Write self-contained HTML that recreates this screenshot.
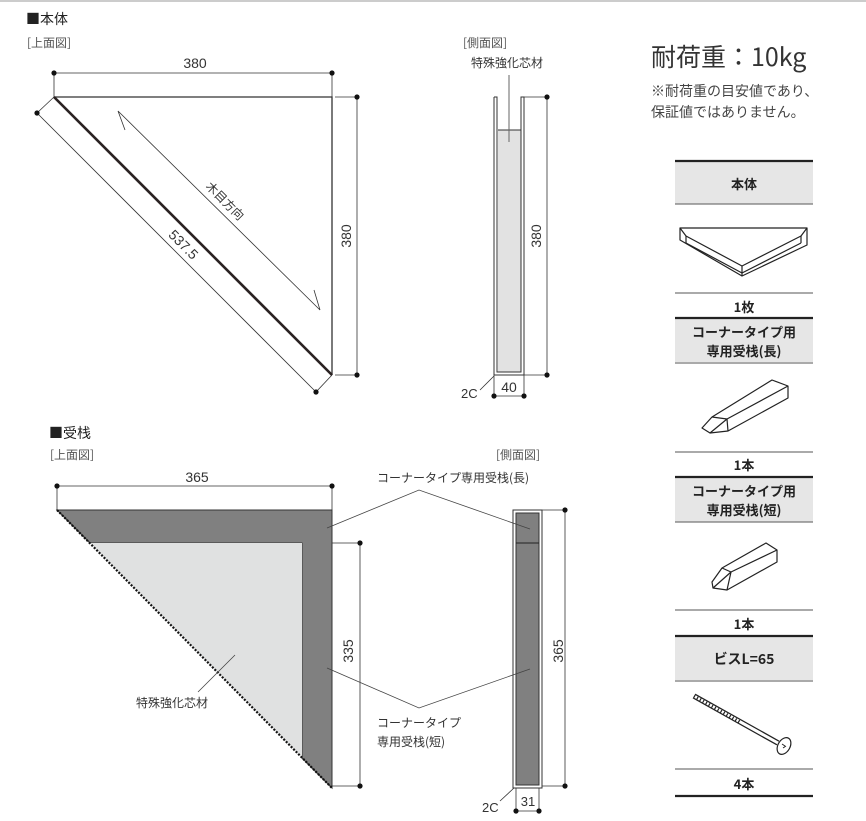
<!DOCTYPE html>
<html><head><meta charset="utf-8"><style>
html,body{margin:0;padding:0;background:#fff;}
svg{display:block;font-family:"Liberation Sans","Noto Sans CJK JP",sans-serif;}
.cjk{font-family:"Noto Sans CJK JP",sans-serif;}
</style></head><body>
<svg width="866" height="821" viewBox="0 0 866 821" xmlns="http://www.w3.org/2000/svg">
<line x1="0" y1="1" x2="866" y2="1" stroke="#ccc" stroke-width="2"/>
<text x="26" y="24" font-size="14" fill="#222" class="cjk">■本体</text>
<text x="27" y="47" font-size="12" fill="#555" class="cjk">[上面図]</text>
<!-- dims top -->
<g stroke="#333" stroke-width="0.8" fill="none">
<line x1="54" y1="73" x2="332" y2="73"/>
<line x1="54" y1="73" x2="54" y2="97"/>
<line x1="332" y1="73" x2="332" y2="97"/>
<line x1="357" y1="97" x2="357" y2="375"/>
<line x1="335" y1="97" x2="357" y2="97"/>
<line x1="335" y1="375" x2="357" y2="375"/>
<line x1="37" y1="113" x2="316" y2="392"/>
<line x1="37" y1="113" x2="54" y2="97"/>
<line x1="316" y1="392" x2="332" y2="375"/>
<polyline points="125,130 118,111 320,310 314,290"/>
</g>
<g fill="#111">
<circle cx="54" cy="73" r="2.6"/><circle cx="332" cy="73" r="2.6"/>
<circle cx="357" cy="97" r="2.6"/><circle cx="357" cy="375" r="2.6"/>
<circle cx="37" cy="113" r="2.6"/><circle cx="316" cy="392" r="2.6"/>
</g>
<polyline points="54,97 332,97 332,375" fill="none" stroke="#333" stroke-width="1.3"/>
<line x1="54" y1="97" x2="332" y2="375" stroke="#2a2222" stroke-width="2.6"/>
<text x="195" y="68" font-size="14" text-anchor="middle" fill="#333">380</text>
<text transform="translate(351,236) rotate(-90)" font-size="14" text-anchor="middle" fill="#333">380</text>
<text transform="translate(180,248) rotate(45)" font-size="14" text-anchor="middle" fill="#333">537.5</text>
<text transform="translate(222,204) rotate(45)" font-size="12" text-anchor="middle" fill="#333" class="cjk">木目方向</text>

<!-- side view 1 -->
<text x="463" y="47" font-size="12" fill="#555" class="cjk">[側面図]</text>
<text x="471" y="67" font-size="12" fill="#333" class="cjk">特殊強化芯材</text>
<rect x="498" y="130" width="23" height="242" fill="#e2e2e2"/>
<g stroke="#333" stroke-width="1" fill="none">
<polyline points="494,97 494,375 524,375 524,97 521,97 521,372 497,372 497,97 494,97"/>
<line x1="498" y1="130" x2="521" y2="130"/>
<line x1="509" y1="75" x2="509" y2="142" stroke="#666"/>
<line x1="524" y1="97" x2="547" y2="97" stroke-width="0.8"/>
<line x1="524" y1="375" x2="547" y2="375" stroke-width="0.8"/>
<line x1="547" y1="97" x2="547" y2="375" stroke-width="0.8"/>
<line x1="494" y1="375" x2="494" y2="396" stroke-width="0.8"/>
<line x1="524" y1="375" x2="524" y2="396" stroke-width="0.8"/>
<line x1="494" y1="396" x2="524" y2="396" stroke-width="0.8"/>
<line x1="480" y1="390" x2="494" y2="376" stroke-width="0.8"/>
</g>
<g fill="#111"><circle cx="547" cy="97" r="2.6"/><circle cx="547" cy="375" r="2.6"/><circle cx="494" cy="396" r="2.6"/><circle cx="524" cy="396" r="2.6"/></g>
<text transform="translate(541,236) rotate(-90)" font-size="14" text-anchor="middle" fill="#333">380</text>
<text x="509" y="392" font-size="14" text-anchor="middle" fill="#333">40</text>
<text x="461" y="398" font-size="13" fill="#333">2C</text>

<!-- right panel -->
<text x="651" y="66" font-size="25" fill="#333" class="cjk">耐荷重：10kg</text>
<text x="651" y="96" font-size="14" fill="#444" class="cjk">※耐荷重の目安値であり、</text>
<text x="651" y="117" font-size="14" fill="#444" class="cjk">保証値ではありません。</text>

<g>
<rect x="675" y="162" width="138" height="42" fill="#e6e6e6"/>
<rect x="675" y="319" width="138" height="43" fill="#e6e6e6"/>
<rect x="675" y="478" width="138" height="44" fill="#e6e6e6"/>
<rect x="675" y="637" width="138" height="43" fill="#e6e6e6"/>
<g stroke="#222">
<line x1="675" y1="161" x2="813" y2="161" stroke-width="2.2"/>
<line x1="675" y1="318" x2="813" y2="318" stroke-width="2.2"/>
<line x1="675" y1="477" x2="813" y2="477" stroke-width="2.2"/>
<line x1="675" y1="636" x2="813" y2="636" stroke-width="2.2"/>
<line x1="675" y1="796" x2="813" y2="796" stroke-width="2.2"/>
</g>
<g stroke="#777" stroke-width="1.3">
<line x1="675" y1="204" x2="813" y2="204"/>
<line x1="675" y1="293" x2="813" y2="293"/>
<line x1="675" y1="363" x2="813" y2="363"/>
<line x1="675" y1="452" x2="813" y2="452"/>
<line x1="675" y1="522" x2="813" y2="522"/>
<line x1="675" y1="610" x2="813" y2="610"/>
<line x1="675" y1="681" x2="813" y2="681"/>
<line x1="675" y1="769" x2="813" y2="769"/>
</g>
<g font-size="13" font-weight="bold" text-anchor="middle" fill="#222" class="cjk">
<text x="744" y="189">本体</text>
<text x="744" y="312">1枚</text>
<text x="744" y="337">コーナータイプ用</text>
<text x="744" y="356">専用受栈(長)</text>
<text x="744" y="470">1本</text>
<text x="744" y="496">コーナータイプ用</text>
<text x="744" y="515">専用受栈(短)</text>
<text x="744" y="629">1本</text>
<text x="744" y="664" font-size="14">ビスL=65</text>
<text x="744" y="789">4本</text>
</g>
<!-- icons -->
<g stroke="#222" stroke-width="1.2" fill="#fff" stroke-linejoin="round">
<polygon points="680,228 807,228 807,245 742,276 680,240"/>
<polyline points="680,228 686,236 742,266 801,236 807,228" fill="none"/>
<polyline points="686,236 686,243" fill="none"/>
<polyline points="801,236 801,243" fill="none"/>
<polyline points="686,243 742,273 801,243" fill="none"/>
<line x1="742" y1="266" x2="742" y2="276"/>
<polygon points="702,428 712,417 772,380 788,386 788,398 728,431 710,433"/>
<polyline points="712,417 727,419 788,386" fill="none"/>
<line x1="727" y1="419" x2="728" y2="431"/>
<line x1="727" y1="419" x2="710" y2="433"/>
<polygon points="712,582 722,568 766,543 777,550 777,562 727,590 713,588"/>
<polyline points="722,568 731,572 777,550" fill="none"/>
<line x1="731" y1="572" x2="727" y2="590"/>
<line x1="731" y1="572" x2="713" y2="588"/>
<line x1="694" y1="696" x2="778" y2="743" stroke-width="5.5"/>
<line x1="694" y1="696" x2="778" y2="743" stroke="#fff" stroke-width="3"/>
<line x1="694" y1="696" x2="740" y2="722" stroke="#222" stroke-width="3" stroke-dasharray="1.2,2.2"/>
<ellipse cx="784" cy="746" rx="6" ry="9" transform="rotate(30 784 746)"/>
<path d="M782,744 l3,2 M783,748 l3,-2" stroke-width="1"/>
</g>
</g>

<!-- section 2 -->
<text x="49" y="438" font-size="14" fill="#222" class="cjk">■受栈</text>
<text x="50" y="459" font-size="12" fill="#555" class="cjk">[上面図]</text>
<text x="496" y="459" font-size="12" fill="#555" class="cjk">[側面図]</text>
<text x="197" y="482" font-size="14" text-anchor="middle" fill="#333">365</text>
<polygon points="57,510 332,510 332,788 302,758 302,543 90,543" fill="#808080" stroke="#333" stroke-width="1"/>
<polygon points="90,543 302,543 302,758" fill="#e0e1e1"/>
<line x1="57" y1="510" x2="332" y2="788" stroke="#111" stroke-width="2.2" stroke-dasharray="2,1.5"/>
<g stroke="#333" stroke-width="0.8" fill="none">
<line x1="57" y1="486" x2="332" y2="486"/>
<line x1="57" y1="486" x2="57" y2="510"/>
<line x1="332" y1="486" x2="332" y2="510"/>
<line x1="332" y1="543" x2="360" y2="543"/>
<line x1="332" y1="786" x2="360" y2="786"/>
<line x1="360" y1="543" x2="360" y2="786"/>
<line x1="235" y1="655" x2="198" y2="692" stroke="#444"/>
<line x1="542" y1="510" x2="565" y2="510"/>
<line x1="542" y1="786" x2="565" y2="786"/>
<line x1="565" y1="510" x2="565" y2="786"/>
<line x1="516" y1="788" x2="516" y2="811"/>
<line x1="539" y1="788" x2="539" y2="811"/>
<line x1="516" y1="811" x2="539" y2="811"/>
<line x1="500" y1="801" x2="514" y2="788"/>
</g>
<g fill="#111"><circle cx="57" cy="486" r="2.6"/><circle cx="332" cy="486" r="2.6"/><circle cx="360" cy="543" r="2.6"/><circle cx="360" cy="786" r="2.6"/><circle cx="565" cy="510" r="2.6"/><circle cx="565" cy="786" r="2.6"/><circle cx="516" cy="811" r="2.6"/><circle cx="539" cy="811" r="2.6"/></g>
<rect x="513" y="510" width="29" height="278" fill="#fff" stroke="#333" stroke-width="1"/>
<rect x="516" y="513" width="23" height="272" fill="#808080" stroke="#333" stroke-width="1"/>
<line x1="516" y1="543" x2="539" y2="543" stroke="#222" stroke-width="1"/>
<g stroke="#444" stroke-width="0.8" fill="none">
<polyline points="327,528 419,490 530,529"/>
<polyline points="327,668 419,708 530,669"/>
</g>
<text transform="translate(353,651) rotate(-90)" font-size="14" text-anchor="middle" fill="#333">335</text>
<text transform="translate(563,651) rotate(-90)" font-size="14" text-anchor="middle" fill="#333">365</text>
<text x="377" y="482" font-size="12" fill="#333" class="cjk">コーナータイプ専用受栈(長)</text>
<text x="377" y="727" font-size="12" fill="#333" class="cjk">コーナータイプ</text>
<text x="377" y="746" font-size="12" fill="#333" class="cjk">専用受栈(短)</text>
<text x="136" y="707" font-size="12" fill="#333" class="cjk">特殊強化芯材</text>
<text x="528" y="806" font-size="13" text-anchor="middle" fill="#333">31</text>
<text x="482" y="812" font-size="13" fill="#333">2C</text>
</svg>
</body></html>
